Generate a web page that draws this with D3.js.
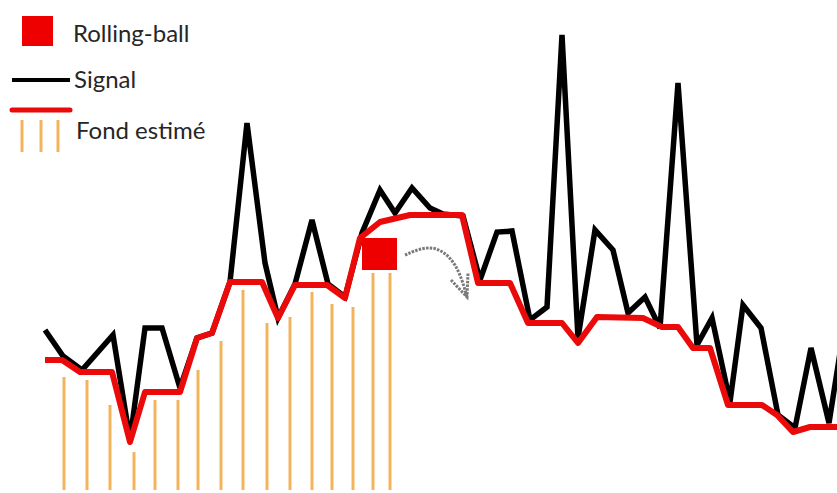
<!DOCTYPE html>
<html><head><meta charset="utf-8">
<script src="https://cdn.jsdelivr.net/npm/d3@7"></script>
<style>html,body{margin:0;padding:0;background:#fff;}svg{display:block;}</style>
</head><body>
<svg id="c" width="837" height="493"></svg>
<script>
// Signal (black) : position, intensity
const signalX = [45,63,82,113,130,145,162,180,197,212,230,247,265,278,295,312,328,345,362,380,395,412,430,443,463,480,497,512,530,547,562,578,595,613,628,645,660,678,697,712,730,743,761,778,795,811,829,842];
const signalY = [163,137,123,158,53,165,165,105,155,160,211,370,230,175,209,273,209,196,260,303,280,305,285,279,277,213,261,262,173,186,458,155,263,243,180,196,165,410,148,175,91,188,165,78,65,145,70,153];
// Rolling-ball background (red)
const bgX = [45,62,80,112,130,145,180,197,212,230,262,278,295,327,345,360,380,410,462,478,510,528,562,578,597,643,662,678,693,710,728,762,777,793,810,840];
const bgY = [133,133,121,121,51,101,101,155,160,211,211,175,208,208,195,255,271,278,278,210,210,170,170,150,176,175,166,166,145,145,88,88,78,61,66,66];
// Estimated background bars (orange)
const fondX = [64,87,110,134,155,178,198,221,243,267,290,312,332,353,373,390];
const fondY = [116,113,88,41,93,93,123,152,203,170,176,201,189,186,220,220];
const fondBase = 3;
// Rolling ball
const ballX = [362,397];
const ballY = [223,255];
// Arrow path (gray)
const arrowX = [405,433,457,467];
const arrowY = [238,250,231,196];
const legendLabels = ["Rolling-ball","Signal","Fond estimé"];

const W = 837, H = 493;
const svg = d3.select("#c");
const x = d3.scaleLinear().domain([0, W]).range([0, W]);
const y = d3.scaleLinear().domain([0, H]).range([H, 0]);

const orange = "#f2b35c", red = "#ea0a0a", black = "#000";

// orange bars
svg.append("g").selectAll("line").data(fondX).join("line")
  .attr("x1", d => x(d)).attr("x2", d => x(d))
  .attr("y1", y(fondBase)).attr("y2", (d,i) => y(fondY[i]))
  .attr("stroke", orange).attr("stroke-width", 3);

const line = d3.line().x(d => x(d[0])).y(d => y(d[1]));
svg.append("path").datum(signalX.map((d,i)=>[d,signalY[i]]))
  .attr("d", line).attr("fill","none").attr("stroke",black)
  .attr("stroke-width",5.5).attr("stroke-linejoin","miter").attr("stroke-miterlimit",3);
svg.append("path").datum(bgX.map((d,i)=>[d,bgY[i]]))
  .attr("d", line).attr("fill","none").attr("stroke",red)
  .attr("stroke-width",6).attr("stroke-linejoin","round");

// ball
svg.append("rect").attr("x", x(ballX[0])).attr("y", y(ballY[1]))
  .attr("width", x(ballX[1])-x(ballX[0])).attr("height", y(ballY[0])-y(ballY[1]))
  .attr("fill", "#ee0000");

// arrow
const arrowLine = d3.line().x(d=>x(d[0])).y(d=>y(d[1])).curve(d3.curveBasis);
svg.append("path").datum(arrowX.map((d,i)=>[d,arrowY[i]]))
  .attr("d", arrowLine).attr("fill","none").attr("stroke","#7a7a7a")
  .attr("stroke-width",3).attr("stroke-dasharray","2.5,1.2");
const tip = [arrowX[3], arrowY[3]];
svg.append("path")
  .attr("d", `M${x(tip[0]-16)},${y(tip[1]+17)}L${x(tip[0])},${y(tip[1])}L${x(tip[0]+1)},${y(tip[1]+24)}`)
  .attr("fill","none").attr("stroke","#7a7a7a").attr("stroke-width",3).attr("stroke-dasharray","2.5,1.2");

// legend
const lg = svg.append("g").attr("font-family","Lato, 'Open Sans', sans-serif").attr("font-size",24).attr("fill","#262626");
lg.append("rect").attr("x",22).attr("y",16).attr("width",31).attr("height",30).attr("fill","#ee0000");
lg.append("text").attr("x",73).attr("y",42).text(legendLabels[0]);
lg.append("line").attr("x1",12).attr("x2",70).attr("y1",80).attr("y2",80).attr("stroke",black).attr("stroke-width",4);
lg.append("text").attr("x",74).attr("y",88).text(legendLabels[1]);
lg.append("line").attr("x1",12).attr("x2",70).attr("y1",110).attr("y2",110).attr("stroke",red).attr("stroke-width",5).attr("stroke-linecap","round");
[22,41,58].forEach(px => lg.append("line").attr("x1",px).attr("x2",px).attr("y1",120).attr("y2",152).attr("stroke",orange).attr("stroke-width",3));
lg.append("text").attr("x",76).attr("y",139).text(legendLabels[2]);
</script>
</body></html>
